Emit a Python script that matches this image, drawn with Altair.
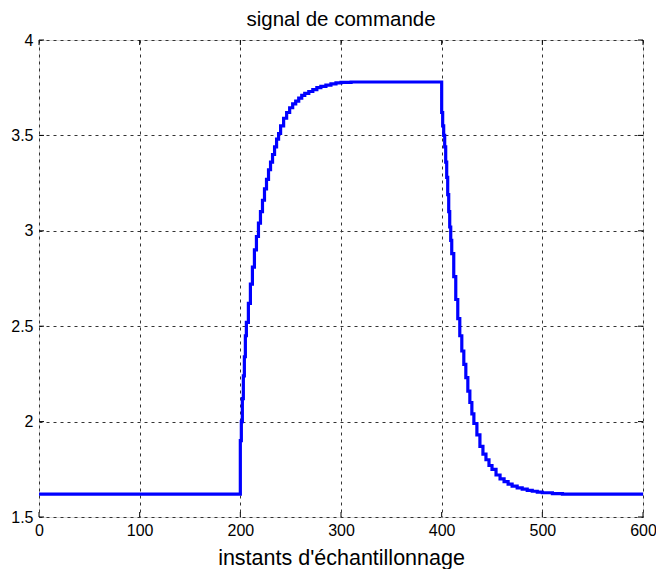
import altair as alt
import pandas as pd

# --- data ---
start_k = [0]
start_u = [1.62]

rise_k = [200, 201, 202, 203, 204, 205, 206, 208, 210, 212, 214, 216, 218, 220, 222, 224,
          226, 228, 230, 232, 234, 236, 238, 240, 243, 246, 249, 252, 255, 258, 261, 264,
          268, 272, 276, 280, 285, 290, 295, 300, 310]
rise_u = [1.90, 2.00, 2.12, 2.24, 2.34, 2.45, 2.52, 2.62, 2.72, 2.81, 2.90, 2.97, 3.04, 3.10,
          3.16, 3.22, 3.27, 3.32, 3.36, 3.40, 3.44, 3.48, 3.51, 3.55, 3.59, 3.62, 3.645, 3.665,
          3.68, 3.695, 3.71, 3.72, 3.73, 3.74, 3.75, 3.757, 3.764, 3.77, 3.775, 3.778, 3.78]

fall_k = [400, 401, 402, 403, 404, 405, 406, 407, 408, 409, 410, 412, 414, 416, 418, 420,
          422, 424, 426, 428, 430, 432, 435, 438, 441, 444, 447, 450, 454, 458, 462, 466,
          470, 475, 480, 485, 490, 495, 500, 510, 520, 600]
fall_u = [3.62, 3.55, 3.50, 3.44, 3.36, 3.28, 3.19, 3.10, 3.02, 2.95, 2.88, 2.76, 2.64, 2.54,
          2.45, 2.37, 2.30, 2.23, 2.16, 2.10, 2.04, 1.99, 1.93, 1.87, 1.83, 1.80, 1.77, 1.75,
          1.72, 1.70, 1.685, 1.672, 1.662, 1.653, 1.646, 1.64, 1.635, 1.63, 1.627, 1.623,
          1.62, 1.62]

x_ticks = [0, 100, 200, 300, 400, 500, 600]
y_ticks = [1.5, 2, 2.5, 3, 3.5, 4]

title_text = "signal de commande"
x_title = "instants d'échantillonnage"

W, H = 604, 477
FONT = "Liberation Sans"

sig = pd.DataFrame({"k": start_k + rise_k + fall_k, "u": start_u + rise_u + fall_u})
xt = pd.DataFrame({"t": x_ticks})
yt = pd.DataFrame({"t": y_ticks})

xscale = alt.Scale(domain=[0, 600], nice=False, zero=False)
yscale = alt.Scale(domain=[1.5, 4], nice=False, zero=False)

grid_kw = dict(grid=True, gridColor="#333333", gridDash=[3, 4], gridWidth=1, gridOpacity=1,
               domain=False, ticks=False, labelFont=FONT, labelFontSize=16,
               labelColor="black", labelFlush=False)

line = alt.Chart(sig).mark_line(color="#0000FF", strokeWidth=3.2, interpolate="step-after").encode(
    x=alt.X("k:Q", scale=xscale,
            axis=alt.Axis(values=x_ticks, format="d", title=x_title, titleFont=FONT,
                          titleFontSize=21.5, titleFontWeight="normal", titleColor="black",
                          titlePadding=9, labelPadding=5, **grid_kw)),
    y=alt.Y("u:Q", scale=yscale,
            axis=alt.Axis(values=y_ticks, format=".1~f", title=None, labelPadding=6,
                          **grid_kw)),
    order="k:Q",
)

tick_len = 5
xb = alt.Chart(xt).mark_rule(color="black", strokeWidth=1).encode(
    x=alt.X("t:Q", scale=xscale), y=alt.value(H), y2=alt.value(H - tick_len))
xtop = alt.Chart(xt).mark_rule(color="black", strokeWidth=1).encode(
    x=alt.X("t:Q", scale=xscale), y=alt.value(0), y2=alt.value(tick_len))
yl = alt.Chart(yt).mark_rule(color="black", strokeWidth=1).encode(
    y=alt.Y("t:Q", scale=yscale), x=alt.value(0), x2=alt.value(tick_len))
yr = alt.Chart(yt).mark_rule(color="black", strokeWidth=1).encode(
    y=alt.Y("t:Q", scale=yscale), x=alt.value(W), x2=alt.value(W - tick_len))

chart = alt.layer(line, xb, xtop, yl, yr).properties(
    width=W, height=H,
    title=alt.TitleParams(title_text, font=FONT, fontSize=20.5, fontWeight="normal",
                          color="black", anchor="middle", offset=2),
    autosize=alt.AutoSizeParams(type="none"),
    padding={"left": 31, "top": 32, "right": 13, "bottom": 52},
).configure_view(stroke="black", strokeWidth=1).configure(background="white")

chart.save("out.html", embed_options={"renderer": "svg", "actions": False})
